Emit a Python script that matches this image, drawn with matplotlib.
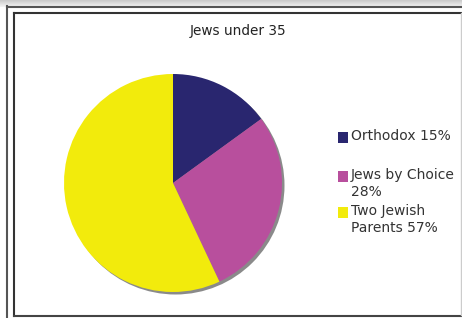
import matplotlib
matplotlib.use("Agg")
import matplotlib.pyplot as plt
from matplotlib.patches import Rectangle, Circle
from matplotlib.lines import Line2D

title = "Jews under 35"
categories = ["Orthodox", "Jews by Choice", "Two Jewish Parents"]
values = [15, 28, 57]
legend_labels = ["Orthodox 15%", "Jews by Choice\n28%", "Two Jewish\nParents 57%"]
colors = ["#29266f", "#b84f9d", "#f2eb0c"]

W, H = 462, 318
fig = plt.figure(figsize=(W / 100, H / 100), dpi=100)
fig.patch.set_facecolor("white")

def fx(x):
    return x / W

def fy(y):
    return 1 - y / H

# background gradient strip at top
bg = fig.add_axes([0, 0, 1, 1])
bg.set_xlim(0, W)
bg.set_ylim(H, 0)
bg.axis("off")
for i in range(7):
    g = 0.80 + i * 0.025
    bg.add_patch(Rectangle((0, i), W, 1, color=(g, g, g), lw=0))
# outer frame lines
bg.add_line(Line2D([7, 7], [6, H], color="#555555", lw=1.5))
bg.add_line(Line2D([7, W], [6.5, 6.5], color="#555555", lw=1.5))
# inner frame
bg.add_line(Line2D([13.5, 13.5], [12.5, 315.5], color="#333333", lw=1.5))
bg.add_line(Line2D([13.5, W], [12.5, 12.5], color="#333333", lw=1.5))
bg.add_line(Line2D([13.5, W], [315.5, 315.5], color="#444444", lw=1.5))
bg.add_line(Line2D([461, 461], [13, 315], color="#cccccc", lw=1))

# title
fig.text(fx(238), fy(30.5), title, ha="center", va="center",
         fontsize=9.8, color="#222222", family="DejaVu Sans")

# pie
cx, cy, r = 173, 183, 109
pad = 4
ax = fig.add_axes([fx(cx - r - pad), fy(cy + r + pad), (2 * (r + pad)) / W, (2 * (r + pad)) / H])
ax.add_patch(Circle((2.5 / r, -2.5 / r), 1.0, color="#8a8a8a", lw=0, zorder=0))
wedges, _ = ax.pie(values, colors=colors, startangle=90, counterclock=False,
                   radius=1.0, wedgeprops=dict(linewidth=0))
for w in wedges:
    w.set_zorder(1)
lim = 1 + pad / r
ax.set_xlim(-lim, lim)
ax.set_ylim(-lim, lim)
ax.set_aspect("auto")
ax.axis("off")

# legend
entry_tops = [132, 171, 207]
for lab, col, yt in zip(legend_labels, colors, entry_tops):
    bg.add_patch(Rectangle((337.5, yt), 10.5, 10.5, color=col, lw=0))
    bg.text(351, yt - 2.5, lab, ha="left", va="top", fontsize=10,
            color="#333333", linespacing=1.2, family="DejaVu Sans",
            clip_on=True)

fig.savefig("out.png", dpi=100)
